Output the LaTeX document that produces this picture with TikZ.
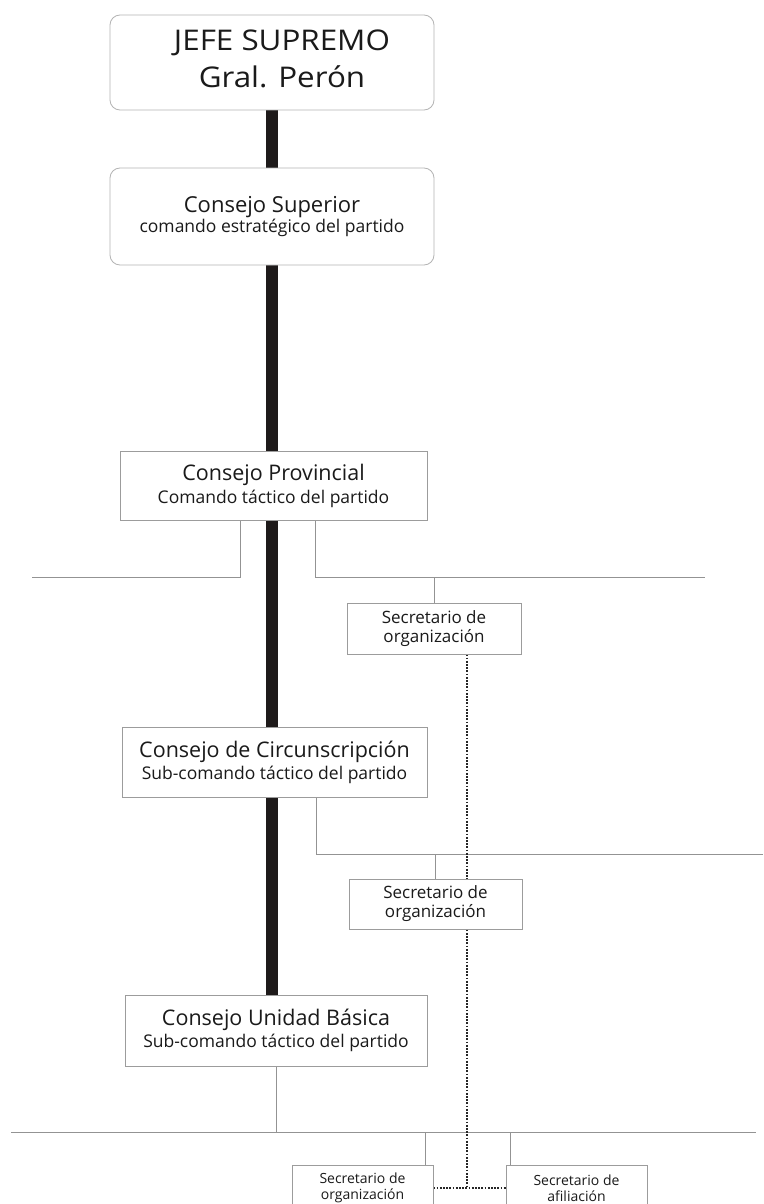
\documentclass[tikz,border=0pt]{standalone}
\usepackage{fontspec}
\setmainfont{Open Sans}
\newfontfamily\jefefont[FakeStretch=1.1]{Open Sans}
\usetikzlibrary{backgrounds}
\definecolor{barc}{HTML}{1E1A1A}
\definecolor{linec}{HTML}{939393}
\definecolor{boxc}{HTML}{9C9C9C}
\definecolor{rboxc}{HTML}{B4B4B4}
\definecolor{txtc}{HTML}{1A1A1A}
\tikzset{
  rbox/.style={draw=rboxc, line width=0.8pt, rounded corners=10pt, fill=white, inner sep=0pt},
  sbox/.style={draw=boxc, line width=0.9pt, fill=white, inner sep=0pt, align=center, text=txtc},
  bar/.style={draw=barc, line width=12pt},
  thinline/.style={draw=linec, line width=0.9pt},
  dotline/.style={draw=black!85, line width=1.2pt, dash pattern=on 1.8pt off 1.4pt},
  titlefont/.style={font=\fontsize{21.5}{#1}\selectfont},
}
\newcommand{\subline}[1]{{\fontsize{17.5}{17.5}\selectfont #1}}
\begin{document}
\begin{tikzpicture}[x=1pt,y=-1pt]
\clip (0,0) rectangle (763,1204);
% boxes
\node[rbox, minimum width=324pt, minimum height=95pt] (jefe) at (272,62.5) {};
\node[font=\jefefont\fontsize{28.5}{37}\selectfont, align=center, text=txtc, inner sep=0pt] (jefet) at (282,58.4) {JEFE SUPREMO\\Gral. Perón};
\node[rbox, minimum width=324pt, minimum height=97pt, align=center, text=txtc,
      font=\fontsize{22}{20}\selectfont] (sup) at (272,216.5)
      {Consejo Superior\\\subline{comando estratégico del partido}};
\node[sbox, minimum width=307pt, minimum height=69pt, titlefont=23] (prov) at (273.5,485.5)
      {Consejo Provincial\\\subline{Comando táctico del partido}};
\node[sbox, minimum width=174pt, minimum height=51pt, font=\fontsize{17}{19}\selectfont] (psec) at (434,628.5)
      {Secretario de\\organización};
\node[sbox, minimum width=305pt, minimum height=70pt, titlefont=22] (circ) at (274.5,762)
      {Consejo de Circunscripción\\\subline{Sub-comando táctico del partido}};
\node[sbox, minimum width=173pt, minimum height=50pt, font=\fontsize{17}{19}\selectfont] (csec) at (435.5,904)
      {Secretario de\\organización};
\node[sbox, minimum width=302pt, minimum height=71pt, titlefont=21.6] (ub) at (276,1030.5)
      {Consejo Unidad Básica\\\subline{Sub-comando táctico del partido}};
\node[sbox, minimum width=141pt, minimum height=46pt, font=\fontsize{14}{15.5}\selectfont] (bsec1) at (362.5,1188)
      {Secretario de\\organización};
\node[sbox, minimum width=141pt, minimum height=46pt, font=\fontsize{14}{15.5}\selectfont] (bsec2) at (576.5,1188)
      {Secretario de\\afiliación};
% free ends
\coordinate (pL) at (32,577);
\coordinate (pR) at (705,577);
\coordinate (cR) at (763,854);
\coordinate (uL) at (11,1132);
\coordinate (uR) at (756,1132);
\begin{scope}[on background layer]
  \fill[white] (0,0) rectangle (763,1204);
  % thick command line
  \draw[bar] (jefe.south) -- (sup.north);
  \draw[bar] (sup.south) -- (sup.south |- prov.north);
  \draw[bar] (prov.south -| sup.south) -- (circ.north -| sup.south);
  \draw[bar] (circ.south -| sup.south) -- (ub.north -| sup.south);
  % thin branches
  \draw[thinline] ([xshift=-33.5pt]prov.south) |- (pL);
  \draw[thinline] ([xshift=41.5pt]prov.south) |- (pR);
  \draw[thinline] (psec.north) -- (psec.north |- pR);
  \draw[thinline] ([xshift=41.5pt]circ.south) |- (cR);
  \draw[thinline] (csec.north) -- (csec.north |- cR);
  \draw[thinline] (uL) -- (uR);
  \draw[thinline] (ub.south) -- (ub.south |- uL);
  \draw[thinline] ([xshift=-8.5pt]bsec1.north east) -- ([xshift=-8.5pt]bsec1.north east |- uL);
  \draw[thinline] ([xshift=5pt]bsec2.north west) -- ([xshift=5pt]bsec2.north west |- uL);
  % dotted line
  \draw[dotline] ([xshift=33pt]psec.south) -- ([xshift=33pt]psec.south |- bsec1.east);
  \draw[dotline] (bsec1.east) -- (bsec2.west);
\end{scope}
\end{tikzpicture}
\end{document}
